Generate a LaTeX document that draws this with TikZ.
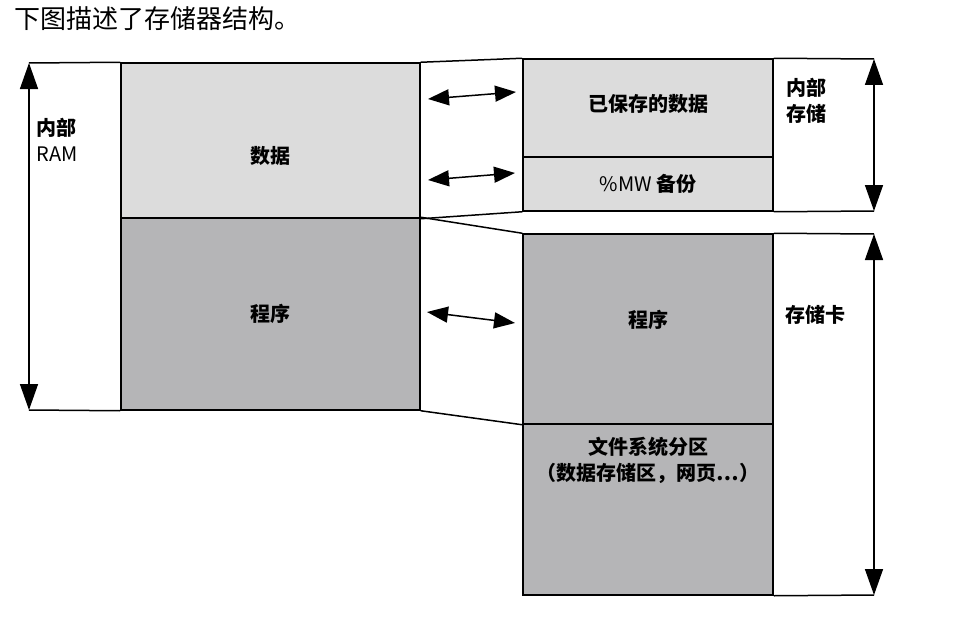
\documentclass[tikz,border=0pt]{standalone}
\usepackage{fontspec}
\setmainfont{Noto Sans CJK SC}
\usetikzlibrary{arrows.meta, positioning}

\definecolor{datagray}{RGB}{220,220,220}
\definecolor{proggray}{RGB}{181,181,183}

\begin{document}
\begin{tikzpicture}[
        x=1pt, y=-1pt,
        font=\fontsize{20}{26}\selectfont\bfseries,
        every node/.style = {align=center},
        light/.style = {rectangle, draw=black, line width=1.5pt,
                        fill=datagray, inner sep=0pt},
        dark/.style  = {rectangle, draw=black, line width=1.5pt,
                        fill=proggray, inner sep=0pt},
        edge/.style  = {line width=1.5pt, draw=black},
        span/.style  = {{Triangle[length=26pt, width=18pt]}-{Triangle[length=26pt, width=18pt]},
                        line width=1.5pt},
        swap/.style  = {{Triangle[length=21pt, width=16pt]}-{Triangle[length=21pt, width=16pt]},
                        line width=1.5pt}
    ]
    \useasboundingbox (0,0) rectangle (980,642);
    \fill[white] (0,0) rectangle (980,642);

    % --- Title ---
    \node[anchor=west, font=\fontsize{26}{30}\selectfont\mdseries] (title) at (11,19) {下图描述了存储器结构。};

    % --- Internal RAM (left column) ---
    \node[light, minimum width=299pt, minimum height=155pt] (data) at (270.5,140.5) {};
    \node[dark,  minimum width=299pt, minimum height=192pt] (prog) at (270.5,314)   {};
    \node (datalbl) at ([yshift=-15pt]data.center) {数据};
    \node (proglbl) at (prog.center) {程序};

    \coordinate (ramtop) at (29,63);
    \coordinate (rambot) at (29,410);
    \draw[edge] (ramtop) -- (data.north west);
    \draw[edge] (rambot) -- (prog.south west);
    \draw[span] (ramtop) -- (rambot);
    \node[anchor=north west, align=left] (ramlbl) at (33,115) {内部\\{\mdseries RAM}};

    % --- Internal storage (top right) ---
    \node[light, minimum width=250pt, minimum height=98pt] (saved) at (648,108) {};
    \node[light, minimum width=250pt, minimum height=54pt] (mwbak) at (648,184) {{\mdseries\%MW} 备份};
    \node (savedlbl) at ([yshift=4pt]saved.center) {已保存的数据};

    \coordinate (inttop) at (874,59);
    \coordinate (intbot) at (874,211);
    \draw[edge] (saved.north east) -- (inttop);
    \draw[edge] (mwbak.south east) -- (intbot);
    \draw[span] (inttop) -- (intbot);
    \node[anchor=north west, align=left] (intlbl) at (783,75) {内部\\存储};

    % --- Memory card (bottom right) ---
    \node[dark, minimum width=250pt, minimum height=190pt] (cprog) at (648,329)   {};
    \node[dark, minimum width=250pt, minimum height=171pt] (fsys)  at (648,509.5) {};
    \node (cproglbl) at ([yshift=9pt]cprog.center) {程序};
    \node[anchor=north] (fsyslbl) at ([yshift=-10pt]fsys.north)
        {文件系统分区\\（数据存储区，网页…）};

    \coordinate (cardtop) at (874,234);
    \coordinate (cardbot) at (874,595);
    \draw[edge] (cprog.north east) -- (cardtop);
    \draw[edge] (fsys.south east)  -- (cardbot);
    \draw[span] (cardtop) -- (cardbot);
    \node[anchor=west] (cardlbl) at (782,315) {存储卡};

    % --- Links between RAM and storage ---
    \draw[edge] (data.north east) -- (saved.north west);
    \draw[edge] (data.south east) -- (mwbak.south west);
    \draw[edge] (prog.north east) -- (cprog.north west);
    \draw[edge] (prog.south east) -- (cprog.south west);

    % --- Exchange arrows ---
    \coordinate (s1a) at (428,99);  \coordinate (s1b) at (516,92);
    \coordinate (s2a) at (428,180); \coordinate (s2b) at (515,173);
    \coordinate (s3a) at (427,312); \coordinate (s3b) at (515,323);
    \draw[swap] (s1a) -- (s1b);
    \draw[swap] (s2a) -- (s2b);
    \draw[swap] (s3a) -- (s3b);

    \end{tikzpicture}
\end{document}
